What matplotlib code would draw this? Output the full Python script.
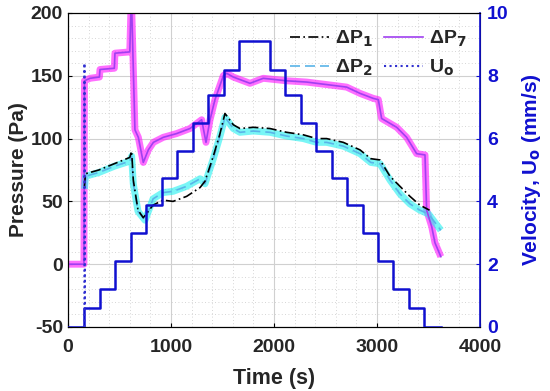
import matplotlib
matplotlib.use("Agg")
import matplotlib.pyplot as plt
import numpy as np

plt.rcParams['font.family'] = ['Liberation Sans', 'DejaVu Sans']
plt.rcParams['font.weight'] = 'bold'
plt.rcParams['mathtext.default'] = 'bf'
plt.rcParams['axes.unicode_minus'] = False

# velocity set-point steps (s, mm/s)
u_t = [0, 160, 310, 460, 610, 760, 910, 1060, 1210, 1360, 1510, 1660, 1960,
       2110, 2260, 2410, 2560, 2710, 2860, 3010, 3160, 3310, 3460, 3620]
u_val = [0, 0.6, 1.2, 2.1, 3.0, 3.9, 4.75, 5.6, 6.5, 7.4, 8.2, 9.1, 8.2,
         7.4, 6.5, 5.6, 4.75, 3.9, 3.0, 2.1, 1.2, 0.6, 0, 0]

# measured U_o spike at start-up
uo_t = [160, 160, 165]
uo_val = [0, 8.4, 0.6]

# pressure drop dP7
p7_t = [0, 155, 160, 214, 305, 311, 450, 456, 600, 615, 650, 683, 731, 780,
        829, 925, 1055, 1184, 1298, 1340, 1379, 1427, 1508, 1540, 1605, 1767,
        1896, 2123, 2317, 2511, 2705, 2835, 2964, 3013, 3045, 3191, 3288,
        3385, 3466, 3482, 3531, 3563, 3620]
p7_val = [0, 0, 146, 148, 149, 155, 156, 168, 169, 215, 107, 101, 81, 91,
          97, 101, 104, 108, 115, 97, 115, 131, 150, 152, 149, 144,
          148, 146, 145, 143, 141, 136, 132, 131, 116, 109, 101,
          88, 87, 43, 30, 17, 6]

# pressure drop dP1
p1_t = [160, 170, 300, 450, 600, 618, 634, 680, 731, 826, 922, 1020, 1152,
        1282, 1330, 1411, 1476, 1524, 1605, 1670, 1799, 1961, 2123, 2285,
        2414, 2511, 2673, 2835, 2940, 3029, 3126, 3223, 3320, 3417, 3510]
p1_val = [62, 72, 75, 80, 85, 90, 67, 43, 37, 47, 51, 50, 54,
          61, 66, 86, 104, 120, 111, 108, 109, 108, 105, 103,
          100, 100, 97, 91, 84, 83, 70, 62, 54, 47, 43]

# pressure drop dP2
p2_t = [160, 170, 300, 450, 600, 618, 634, 680, 748, 826, 922, 1020, 1152,
        1282, 1330, 1411, 1476, 1524, 1605, 1670, 1799, 1961, 2123, 2285,
        2414, 2511, 2673, 2835, 2940, 3029, 3126, 3223, 3320, 3417, 3500,
        3620]
p2_val = [60, 70, 73, 78, 82, 86, 64, 42, 35, 52, 57, 58, 62,
          68, 64, 84, 102, 117, 108, 105, 106, 105, 102, 100,
          97, 97, 94, 88, 81, 80, 67, 56, 48, 43, 40, 27]

blue = "#1010d0"
txt = "#262626"

fig = plt.figure(figsize=(5.5, 3.91), dpi=100)
ax = fig.add_axes([0.1236, 0.1637, 0.7491, 0.8031])
ax2 = ax.twinx()

# noisy raw bands drawn as wide light lines behind the traces
ax.plot(p7_t, p7_val, color="#ff10ff", lw=5, alpha=0.6, solid_capstyle='butt', zorder=2)
ax.plot(p2_t, p2_val, color="#20f0f0", lw=5, alpha=0.6, solid_capstyle='butt', zorder=2)

l1, = ax.plot(p1_t, p1_val, color="black", lw=1.2, ls=(0, (6, 2, 1, 2)), zorder=4)
l7, = ax.plot(p7_t, p7_val, color="#a040f0", lw=1.2, zorder=3)
l2, = ax.plot(p2_t, p2_val, color="#5ab4e8", lw=1.2, ls=(0, (6, 3)), zorder=3)

ax2.plot(u_t, u_val, color=blue, lw=1.8, drawstyle="steps-post", zorder=5)
lu, = ax2.plot(uo_t, uo_val, color="#3030d0", lw=1.5, ls=":", zorder=5)

ax.set_xlim(0, 4000)
ax.set_ylim(-50, 200)
ax2.set_ylim(0, 10)
ax.set_xticks(np.arange(0, 4001, 1000))
ax.set_yticks(np.arange(-50, 201, 50))
ax2.set_yticks(np.arange(0, 11, 2))
ax.set_xticks(np.arange(0, 4001, 200), minor=True)
ax.set_yticks(np.arange(-50, 201, 10), minor=True)
ax.tick_params(which='minor', length=0)
ax.tick_params(which='major', direction='in', labelsize=14, length=3,
               labelcolor=txt)
ax.tick_params(axis='x', pad=9)
ax2.tick_params(direction='in', labelsize=14, colors=blue, length=3, pad=5)
ax2.spines['right'].set_color(blue)
ax2.spines['right'].set_linewidth(1.2)

ax.grid(which='major', color="#d0d0d0", lw=0.8)
ax.grid(which='minor', color="#c8c8c8", lw=0.6, ls=(0, (1, 3)))
ax.set_axisbelow(True)

ax.set_xlabel("Time (s)", fontsize=15.5, fontweight='bold', color=txt, labelpad=8)
ax.set_ylabel("Pressure (Pa)", fontsize=15, fontweight='bold', color=txt, labelpad=2)
ax2.set_ylabel("Velocity, U$_\\mathbf{o}$ (mm/s)", fontsize=15, fontweight='bold',
               color=blue, labelpad=8)

leg = ax2.legend([l1, l2, l7, lu],
                 ["ΔP$_\\mathbf{1}$", "ΔP$_\\mathbf{2}$",
                  "ΔP$_\\mathbf{7}$", "U$_\\mathbf{o}$"],
                 ncol=2, frameon=False, fontsize=14, loc='upper right',
                 bbox_to_anchor=(1.01, 1.005), handlelength=2.0,
                 columnspacing=0.6, handletextpad=0.3, labelspacing=0.45)
for t in leg.get_texts():
    t.set_color(txt)

fig.savefig("out.png", dpi=100)
